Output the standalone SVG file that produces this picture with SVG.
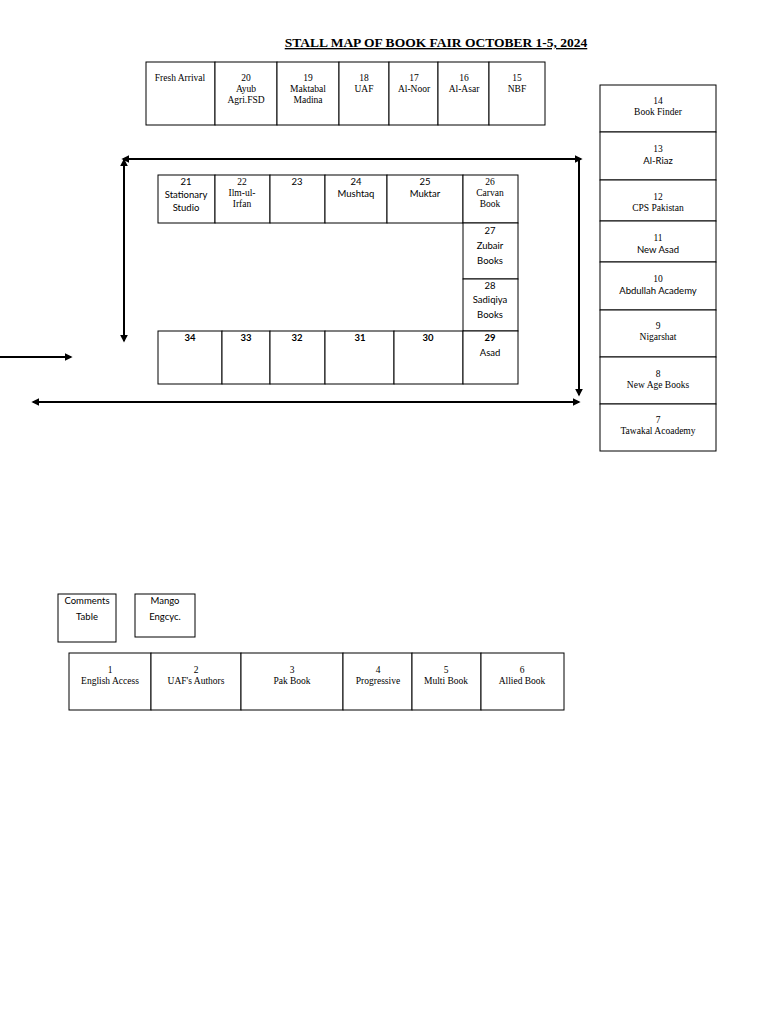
<svg xmlns="http://www.w3.org/2000/svg" width="768" height="1024" viewBox="0 0 768 1024">
<style>
rect{fill:#fff;stroke:#000;stroke-width:1}
.s{font-family:"Liberation Serif",serif;font-size:9.5px;text-anchor:middle}
.a{font-family:Lato,"Liberation Sans",sans-serif;font-size:9.5px;text-anchor:middle}
.c line{stroke:#000;stroke-width:2}
</style>
<defs><marker id="ah" viewBox="0 0 10 10" refX="8" refY="5" markerWidth="4" markerHeight="4" orient="auto-start-reverse"><path d="M0,0L10,5L0,10z"/></marker></defs>
<rect width="768" height="1024" style="stroke:none"/>
<text x="436" y="47" style="font-family:'Liberation Serif',serif;font-size:13.5px;font-weight:bold;text-anchor:middle;text-decoration:underline">STALL MAP OF BOOK FAIR OCTOBER 1-5, 2024</text>
<g id="top">
<rect x="146" y="62" width="69" height="63"/><text class="s" x="180" y="81">Fresh Arrival</text>
<rect x="215" y="62" width="62" height="63"/><text class="s" x="246" y="81">20<tspan x="246" dy="11">Ayub</tspan><tspan x="246" dy="11">Agri.FSD</tspan></text>
<rect x="277" y="62" width="62" height="63"/><text class="s" x="308" y="81">19<tspan x="308" dy="11">Maktabal</tspan><tspan x="308" dy="11">Madina</tspan></text>
<rect x="339" y="62" width="50" height="63"/><text class="s" x="364" y="81">18<tspan x="364" dy="11">UAF</tspan></text>
<rect x="389" y="62" width="49" height="63"/><text class="s" x="414" y="81">17<tspan x="414" dy="11">Al-Noor</tspan></text>
<rect x="438" y="62" width="51" height="63"/><text class="s" x="464" y="81">16<tspan x="464" dy="11">Al-Asar</tspan></text>
<rect x="489" y="62" width="56" height="63"/><text class="s" x="517" y="81">15<tspan x="517" dy="11">NBF</tspan></text>
</g>
<g id="right">
<rect x="600" y="85" width="116" height="47"/><text class="s" x="658" y="104">14<tspan x="658" dy="11">Book Finder</tspan></text>
<rect x="600" y="132" width="116" height="48"/><text class="s" x="658" y="152">13<tspan x="658" dy="12" class="a">Al-Riaz</tspan></text>
<rect x="600" y="180" width="116" height="41"/><text class="s" x="658" y="200">12<tspan x="658" dy="11">CPS Pakistan</tspan></text>
<rect x="600" y="221" width="116" height="41"/><text class="s" x="658" y="241">11<tspan x="658" dy="12" class="a">New Asad</tspan></text>
<rect x="600" y="262" width="116" height="48"/><text class="s" x="658" y="282">10<tspan x="658" dy="12" class="a">Abdullah Academy</tspan></text>
<rect x="600" y="310" width="116" height="47"/><text class="s" x="658" y="329">9<tspan x="658" dy="11">Nigarshat</tspan></text>
<rect x="600" y="357" width="116" height="47"/><text class="s" x="658" y="377">8<tspan x="658" dy="11">New Age Books</tspan></text>
<rect x="600" y="404" width="116" height="47"/><text class="s" x="658" y="423">7<tspan x="658" dy="11">Tawakal Acoademy</tspan></text>
</g>
<g id="mid">
<rect x="158" y="175" width="57" height="48"/><text class="a" x="186" y="185">21<tspan x="186" dy="13">Stationary</tspan><tspan x="186" dy="13">Studio</tspan></text>
<rect x="215" y="175" width="55" height="48"/><text class="s" x="242" y="185">22<tspan x="242" dy="11">Ilm-ul-</tspan><tspan x="242" dy="11">Irfan</tspan></text>
<rect x="270" y="175" width="55" height="48"/><text class="a" x="297" y="185">23</text>
<rect x="325" y="175" width="62" height="48"/><text class="a" x="356" y="185">24<tspan x="356" dy="12">Mushtaq</tspan></text>
<rect x="387" y="175" width="76" height="48"/><text class="a" x="425" y="185">25<tspan x="425" dy="12">Muktar</tspan></text>
<rect x="463" y="175" width="55" height="48"/><text class="s" x="490" y="185">26<tspan x="490" dy="11">Carvan</tspan><tspan x="490" dy="11">Book</tspan></text>
<rect x="463" y="223" width="55" height="56"/><text class="a" x="490" y="234">27<tspan x="490" dy="15">Zubair</tspan><tspan x="490" dy="15">Books</tspan></text>
<rect x="463" y="279" width="55" height="52"/><text class="a" x="490" y="289">28<tspan x="490" dy="14">Sadiqiya</tspan><tspan x="490" dy="15">Books</tspan></text>
<rect x="158" y="331" width="64" height="53"/><text class="a" x="190" y="341" font-weight="bold">34</text>
<rect x="222" y="331" width="48" height="53"/><text class="a" x="246" y="341" font-weight="bold">33</text>
<rect x="270" y="331" width="55" height="53"/><text class="a" x="297" y="341" font-weight="bold">32</text>
<rect x="325" y="331" width="69" height="53"/><text class="a" x="360" y="341" font-weight="bold">31</text>
<rect x="394" y="331" width="69" height="53"/><text class="a" x="428" y="341" font-weight="bold">30</text>
<rect x="463" y="331" width="55" height="53"/><text class="a" x="490" y="341" font-weight="bold">29<tspan x="490" dy="15" font-weight="normal">Asad</tspan></text>
</g>
<g id="misc">
<rect x="58" y="594" width="58" height="48"/><text class="a" x="87" y="604">Comments<tspan x="87" dy="16">Table</tspan></text>
<rect x="135" y="594" width="60" height="43"/><text class="a" x="165" y="604">Mango<tspan x="165" dy="16">Engcyc.</tspan></text>
</g>
<g id="bottom">
<rect x="69" y="653" width="82" height="57"/><text class="s" x="110" y="673">1<tspan x="110" dy="11">English Access</tspan></text>
<rect x="151" y="653" width="90" height="57"/><text class="s" x="196" y="673">2<tspan x="196" dy="11">UAF's Authors</tspan></text>
<rect x="241" y="653" width="102" height="57"/><text class="s" x="292" y="673">3<tspan x="292" dy="11">Pak Book</tspan></text>
<rect x="343" y="653" width="69" height="57"/><text class="s" x="378" y="673">4<tspan x="378" dy="11">Progressive</tspan></text>
<rect x="412" y="653" width="69" height="57"/><text class="s" x="446" y="673">5<tspan x="446" dy="11">Multi Book</tspan></text>
<rect x="481" y="653" width="83" height="57"/><text class="s" x="522" y="673">6<tspan x="522" dy="11">Allied Book</tspan></text>
</g>
<g id="connectors" class="c">
<line x1="123" y1="159" x2="581" y2="159" marker-start="url(#ah)" marker-end="url(#ah)"/>
<line x1="124" y1="160" x2="124" y2="341" marker-start="url(#ah)" marker-end="url(#ah)"/>
<line x1="579" y1="160" x2="579" y2="395" marker-end="url(#ah)"/>
<line x1="33" y1="402" x2="579" y2="402" marker-start="url(#ah)" marker-end="url(#ah)"/>
<line x1="0" y1="357" x2="71" y2="357" marker-end="url(#ah)"/>
</g>
</svg>
